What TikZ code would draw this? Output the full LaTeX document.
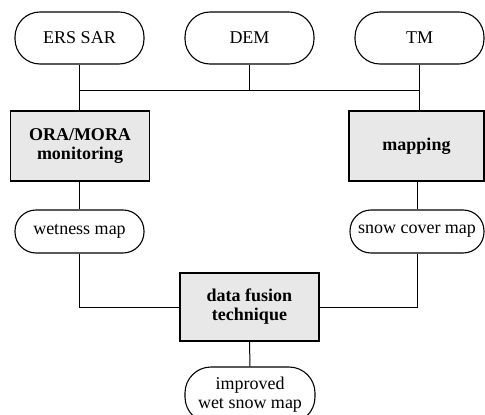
\documentclass[tikz,border=0pt]{standalone}
\usepackage{fontspec}
\setmainfont{Liberation Serif}
\begin{document}
\begin{tikzpicture}[x=1pt,y=-1pt,line width=1.1pt,
  stadium/.style={draw,rectangle,rounded corners=25pt,minimum width=129pt,minimum height=52pt,inner sep=2pt,align=center,font=\fontsize{18}{19}\selectfont},
  procbox/.style={draw,rectangle,fill=black!9,minimum width=139pt,minimum height=70pt,align=center,font=\fontsize{18}{19}\selectfont\bfseries},
  link/.style={draw,line width=1pt}]
\useasboundingbox (0,0) rectangle (485,415);
\node[stadium] (ers) at (79.5,38) {ERS SAR};
\node[stadium] (dem) at (249.5,38) {DEM};
\node[stadium] (tm) at (419.5,38) {TM};
\node[procbox] (ora) at (80,146) {ORA/MORA\\monitoring};
\node[procbox,minimum width=135pt] (mapping) at (416.5,146) {mapping};
\node[stadium,minimum height=43pt,rounded corners=21pt] (wet) at (79.5,231.5) {wetness map};
\node[stadium,minimum width=134pt,minimum height=43pt,rounded corners=21pt,inner sep=1pt] (snow) at (417,231.5) {snow cover map};
\node[procbox,minimum height=68pt] (fusion) at (249.5,307) {data fusion\\technique};
\node[stadium,minimum width=130pt,minimum height=56pt,rounded corners=26pt] (impr) at (250,395) {improved\\wet snow map};
\coordinate (bus) at (0,90);
\draw[link] (ers.south) -- (ers.south |- ora.north);
\draw[link] (tm.south) -- (tm.south |- mapping.north);
\draw[link] (ers.south |- bus) -- (tm.south |- bus);
\draw[link] (dem.south) -- (dem.south |- bus);
\draw[link] (ora.south -| wet.north) -- (wet.north);
\draw[link] (mapping.south -| snow.north) -- (snow.north);
\draw[link] (wet.south) -- (wet.south |- fusion.west) -- (fusion.west);
\draw[link] (snow.south) -- (snow.south |- fusion.east) -- (fusion.east);
\draw[link] (fusion.south) -- (impr.north);
\end{tikzpicture}
\end{document}
